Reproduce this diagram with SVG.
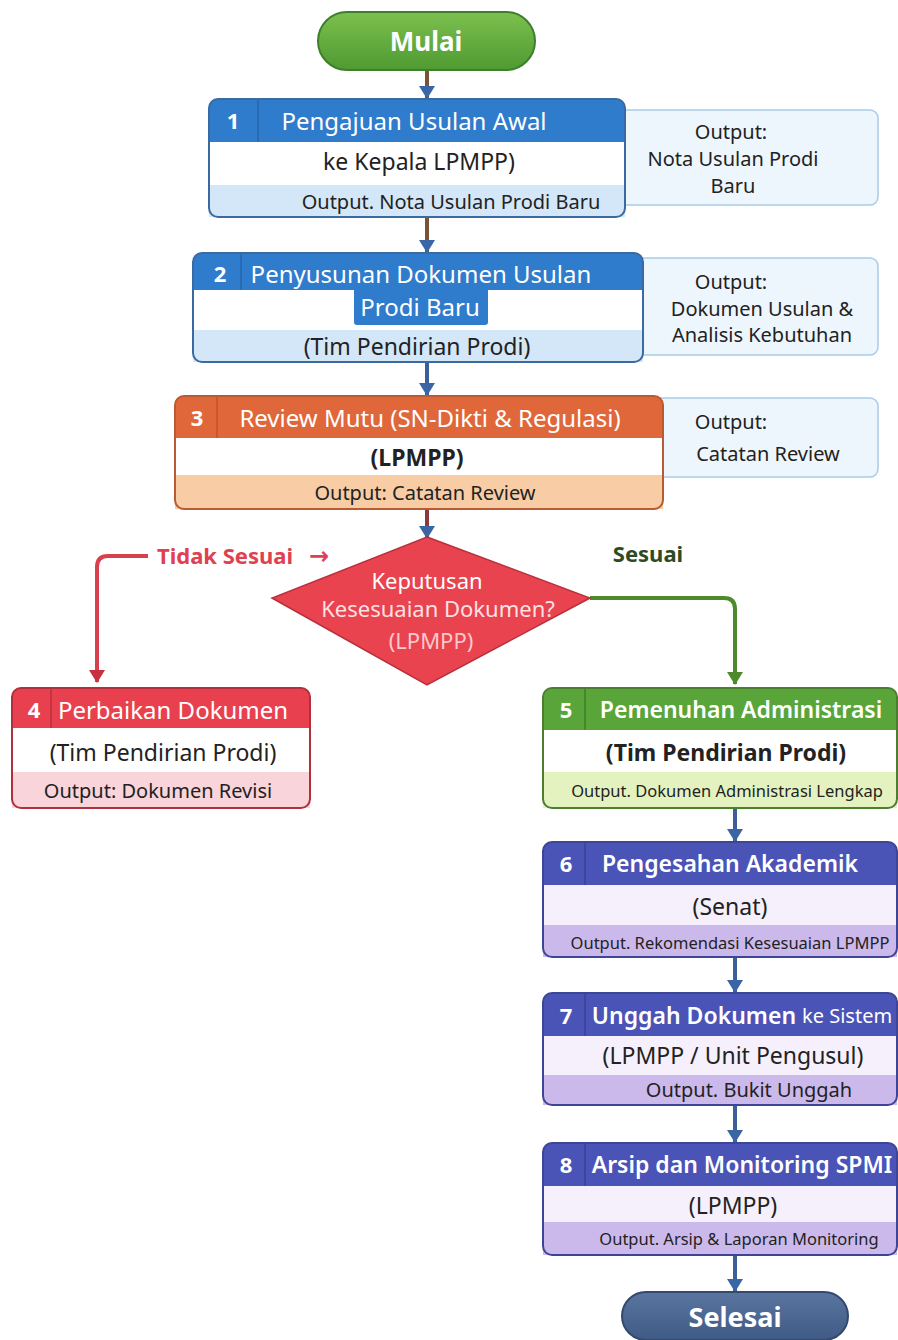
<svg xmlns="http://www.w3.org/2000/svg" width="898" height="1340" viewBox="0 0 898 1340">
<defs>
<marker id="ah" markerWidth="14" markerHeight="16" refX="12" refY="8" orient="auto" markerUnits="userSpaceOnUse" viewBox="0 0 14 16"><path d="M0,0 L13,8 L0,16 Z" fill="#3b66a6"/></marker>
<marker id="ahR" markerWidth="14" markerHeight="16" refX="12" refY="8" orient="auto" markerUnits="userSpaceOnUse" viewBox="0 0 14 16"><path d="M0,0 L13,8 L0,16 Z" fill="#c8303e"/></marker>
<marker id="ahG" markerWidth="14" markerHeight="16" refX="12" refY="8" orient="auto" markerUnits="userSpaceOnUse" viewBox="0 0 14 16"><path d="M0,0 L13,8 L0,16 Z" fill="#4e8a2c"/></marker>
<linearGradient id="gGreen" x1="0" y1="0" x2="0" y2="1"><stop offset="0" stop-color="#7cc04f"/><stop offset="1" stop-color="#4f9a32"/></linearGradient>
<linearGradient id="gSlate" x1="0" y1="0" x2="0" y2="1"><stop offset="0" stop-color="#5a76a0"/><stop offset="1" stop-color="#3f5a84"/></linearGradient>
</defs>
<style>
text{font-family:"Noto Sans","Open Sans","DejaVu Sans",sans-serif;text-anchor:middle;dominant-baseline:central}
.hd{fill:#fff;font-size:24px}
.hb{fill:#fff;font-size:23px;font-weight:600}
.num{fill:#fff;font-size:22px;font-weight:bold}
.bd{fill:#222;font-size:23px}
.out{fill:#222;font-size:20px}
.sm{fill:#222;font-size:16.5px}
.side{fill:#222;font-size:20px}
.sidebox{fill:#eef6fd;stroke:#a8cbe8;stroke-width:1.5}
.arr{stroke-width:4;fill:none}
</style>

<g id="sideboxes">
<rect class="sidebox" x="600" y="110" width="278" height="95" rx="8"/>
<text class="side" x="731" y="131">Output:</text>
<text class="side" x="733" y="158">Nota Usulan Prodi</text>
<text class="side" x="733" y="185">Baru</text>
<rect class="sidebox" x="630" y="258" width="248" height="97" rx="8"/>
<text class="side" x="731" y="281">Output:</text>
<text class="side" x="762" y="308">Dokumen Usulan &amp;</text>
<text class="side" x="762" y="334">Analisis Kebutuhan</text>
<rect class="sidebox" x="650" y="398" width="228" height="79" rx="8"/>
<text class="side" x="731" y="421">Output:</text>
<text class="side" x="768" y="453">Catatan Review</text>
</g>

<g id="connectors">
<line class="arr" x1="427" y1="70" x2="427" y2="98" stroke="#7a5236" marker-end="url(#ah)"/>
<line class="arr" x1="427" y1="217" x2="427" y2="252" stroke="#7a5236" marker-end="url(#ah)"/>
<line class="arr" x1="427" y1="362" x2="427" y2="395" stroke="#3b5f99" marker-end="url(#ah)"/>
<line class="arr" x1="427" y1="509" x2="427" y2="538" stroke="#8a3a3a" marker-end="url(#ah)"/>
<path class="arr" d="M148,556 L108,556 Q97,556 97,567 L97,682" stroke="#d8404e" marker-end="url(#ahR)"/>
<path class="arr" d="M590,598 L724,598 Q735,598 735,609 L735,684" stroke="#4e8a2c" marker-end="url(#ahG)"/>
<line class="arr" x1="735" y1="808" x2="735" y2="841" stroke="#3b5f99" marker-end="url(#ah)"/>
<line class="arr" x1="735" y1="957" x2="735" y2="992" stroke="#3b5f99" marker-end="url(#ah)"/>
<line class="arr" x1="735" y1="1105" x2="735" y2="1142" stroke="#3b5f99" marker-end="url(#ah)"/>
<line class="arr" x1="735" y1="1255" x2="735" y2="1291" stroke="#3b5f99" marker-end="url(#ah)"/>
<text x="225" y="555" fill="#e0404f" font-size="22" font-weight="bold">Tidak Sesuai</text>
<text x="319" y="554" fill="#e0404f" font-size="24" font-weight="bold">→</text>
<text x="648" y="553" fill="#2e4a22" font-size="22" font-weight="bold">Sesuai</text>
</g>

<g id="mulai">
<rect x="318" y="12" width="217" height="58" rx="29" fill="url(#gGreen)" stroke="#3d7f2a" stroke-width="2"/>
<text x="426" y="41" fill="#fff" font-size="26" font-weight="bold">Mulai</text>
</g>

<g id="step1">
<rect x="209" y="99" width="416" height="118" rx="9" fill="#fff"/>
<path d="M209,142 L209,108 Q209,99 218,99 L616,99 Q625,99 625,108 L625,142 Z" fill="#2f7bcc"/>
<rect x="209" y="185" width="416" height="32" fill="#d3e7f8"/>
<line x1="258" y1="100" x2="258" y2="142" stroke="#2566ad" stroke-width="1.5"/>
<rect x="209" y="99" width="416" height="118" rx="9" fill="none" stroke="#3a6aa0" stroke-width="2"/>
<text class="num" x="233" y="120">1</text>
<text class="hd" x="414" y="120">Pengajuan Usulan Awal</text>
<text class="bd" x="419" y="161">ke Kepala LPMPP)</text>
<text class="out" x="451" y="201">Output. Nota Usulan Prodi Baru</text>
</g>

<g id="step2">
<rect x="193" y="253" width="450" height="109" rx="9" fill="#fff"/>
<path d="M193,290 L193,262 Q193,253 202,253 L634,253 Q643,253 643,262 L643,290 Z" fill="#2f7bcc"/>
<rect x="193" y="330" width="450" height="32" fill="#d3e7f8"/>
<rect x="354" y="288" width="134" height="37" rx="3" fill="#2f7bcc"/>
<line x1="241" y1="254" x2="241" y2="290" stroke="#2566ad" stroke-width="1.5"/>
<rect x="193" y="253" width="450" height="109" rx="9" fill="none" stroke="#3a6aa0" stroke-width="2"/>
<text class="num" x="220" y="273">2</text>
<text class="hd" x="421" y="273">Penyusunan Dokumen Usulan</text>
<text class="hd" x="420" y="306">Prodi Baru</text>
<text class="bd" x="417" y="346">(Tim Pendirian Prodi)</text>
</g>

<g id="step3">
<rect x="175" y="396" width="488" height="113" rx="9" fill="#fff"/>
<path d="M175,438 L175,405 Q175,396 184,396 L654,396 Q663,396 663,405 L663,438 Z" fill="#e0673a"/>
<rect x="175" y="475" width="488" height="34" fill="#f8cda6"/>
<line x1="217" y1="397" x2="217" y2="438" stroke="#c4532a" stroke-width="1.5"/>
<rect x="175" y="396" width="488" height="113" rx="9" fill="none" stroke="#b85a32" stroke-width="2"/>
<text class="num" x="197" y="417">3</text>
<text class="hd" x="430" y="417">Review Mutu (SN-Dikti &amp; Regulasi)</text>
<text class="bd" x="417" y="457" font-weight="bold">(LPMPP)</text>
<text class="out" x="425" y="492">Output: Catatan Review</text>
</g>

<g id="decision">
<polygon points="427,537 590,598 427,685 272,598" fill="#e8434f" stroke="#b8303c" stroke-width="1.5"/>
<text x="427" y="580" fill="#fff" font-size="22">Keputusan</text>
<text x="438" y="608" fill="#fde0e2" font-size="22">Kesesuaian Dokumen?</text>
<text x="431" y="640" fill="#fbc8cc" font-size="22">(LPMPP)</text>
</g>

<g id="step4">
<rect x="12" y="688" width="298" height="120" rx="9" fill="#fff"/>
<path d="M12,728 L12,697 Q12,688 21,688 L301,688 Q310,688 310,697 L310,728 Z" fill="#e8404f"/>
<rect x="12" y="772" width="298" height="36" fill="#f9d4da"/>
<line x1="51" y1="689" x2="51" y2="728" stroke="#b8303c" stroke-width="1.5"/>
<rect x="12" y="688" width="298" height="120" rx="9" fill="none" stroke="#b0303c" stroke-width="2"/>
<text class="num" x="34" y="709">4</text>
<text class="hd" x="173" y="709">Perbaikan Dokumen</text>
<text class="bd" x="163" y="752">(Tim Pendirian Prodi)</text>
<text class="out" x="158" y="790">Output: Dokumen Revisi</text>
</g>

<g id="step5">
<rect x="543" y="688" width="354" height="120" rx="9" fill="#fff"/>
<path d="M543,730 L543,697 Q543,688 552,688 L888,688 Q897,688 897,697 L897,730 Z" fill="#5aa53a"/>
<rect x="543" y="772" width="354" height="36" fill="#e4f2c0"/>
<line x1="585" y1="689" x2="585" y2="730" stroke="#3f7f26" stroke-width="1.5"/>
<rect x="543" y="688" width="354" height="120" rx="9" fill="none" stroke="#4b7f2f" stroke-width="2"/>
<text class="num" x="566" y="709">5</text>
<text class="hb" x="741" y="709">Pemenuhan Administrasi</text>
<text class="bd" x="726" y="752" font-weight="bold">(Tim Pendirian Prodi)</text>
<text class="sm" x="727" y="790" font-size="17.5">Output. Dokumen Administrasi Lengkap</text>
</g>

<g id="step6">
<rect x="543" y="842" width="354" height="115" rx="9" fill="#f5f0fb"/>
<path d="M543,885 L543,851 Q543,842 552,842 L888,842 Q897,842 897,851 L897,885 Z" fill="#4a53b6"/>
<rect x="543" y="925" width="354" height="32" fill="#ccb9ec"/>
<line x1="585" y1="843" x2="585" y2="885" stroke="#3a4296" stroke-width="1.5"/>
<rect x="543" y="842" width="354" height="115" rx="9" fill="none" stroke="#3d4596" stroke-width="2"/>
<text class="num" x="566" y="863">6</text>
<text class="hb" x="730" y="863">Pengesahan Akademik</text>
<text class="bd" x="730" y="906" font-size="25">(Senat)</text>
<text class="sm" x="730" y="942">Output. Rekomendasi Kesesuaian LPMPP</text>
</g>

<g id="step7">
<rect x="543" y="993" width="354" height="112" rx="9" fill="#f5f0fb"/>
<path d="M543,1036 L543,1002 Q543,993 552,993 L888,993 Q897,993 897,1002 L897,1036 Z" fill="#4a53b6"/>
<rect x="543" y="1075" width="354" height="30" fill="#ccb9ec"/>
<line x1="585" y1="994" x2="585" y2="1036" stroke="#3a4296" stroke-width="1.5"/>
<rect x="543" y="993" width="354" height="112" rx="9" fill="none" stroke="#3d4596" stroke-width="2"/>
<text class="num" x="566" y="1015">7</text>
<text class="hb" x="742" y="1015">Unggah Dokumen <tspan font-size="20" font-weight="normal">ke Sistem</tspan></text>
<text class="bd" x="733" y="1055">(LPMPP / Unit Pengusul)</text>
<text class="out" x="749" y="1089" font-size="19">Output. Bukit Unggah</text>
</g>

<g id="step8">
<rect x="543" y="1143" width="354" height="112" rx="9" fill="#f5f0fb"/>
<path d="M543,1186 L543,1152 Q543,1143 552,1143 L888,1143 Q897,1143 897,1152 L897,1186 Z" fill="#4a53b6"/>
<rect x="543" y="1222" width="354" height="33" fill="#ccb9ec"/>
<line x1="585" y1="1144" x2="585" y2="1186" stroke="#3a4296" stroke-width="1.5"/>
<rect x="543" y="1143" width="354" height="112" rx="9" fill="none" stroke="#3d4596" stroke-width="2"/>
<text class="num" x="566" y="1164">8</text>
<text class="hb" x="742" y="1164">Arsip dan Monitoring  SPMI</text>
<text class="bd" x="733" y="1205" font-size="24">(LPMPP)</text>
<text class="sm" x="739" y="1238">Output. Arsip &amp; Laporan Monitoring</text>
</g>

<g id="selesai">
<rect x="622" y="1292" width="226" height="48" rx="24" fill="url(#gSlate)" stroke="#34496e" stroke-width="2"/>
<text x="735" y="1316" fill="#fff" font-size="27" font-weight="bold">Selesai</text>
</g>
</svg>
